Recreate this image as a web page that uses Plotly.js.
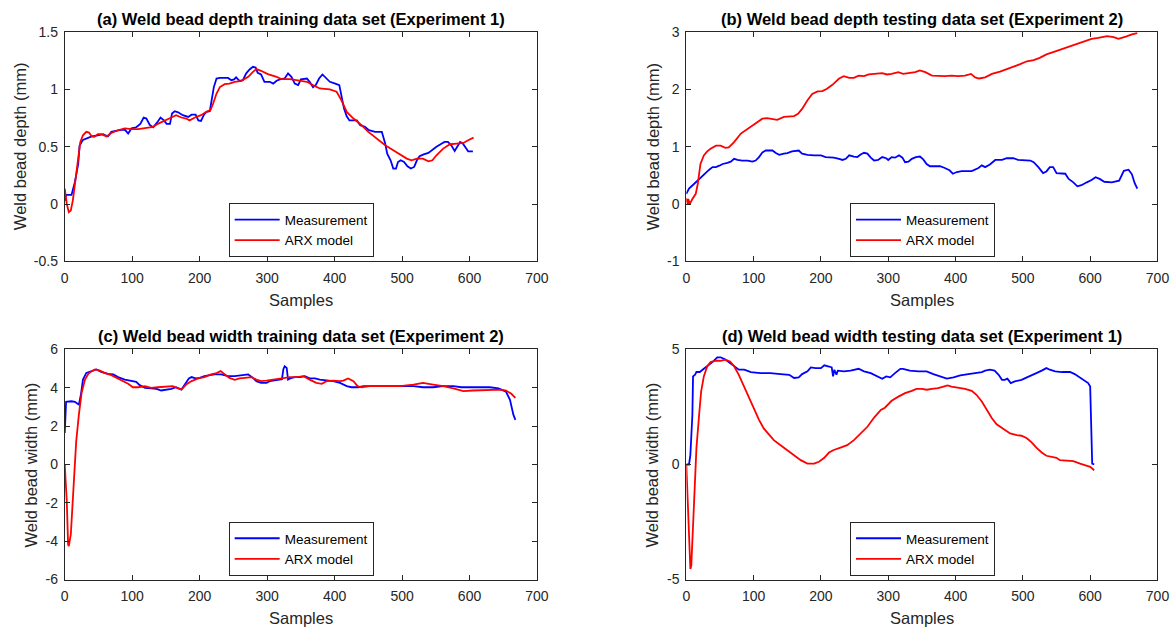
<!DOCTYPE html>
<html>
<head>
<meta charset="utf-8">
<script src="https://cdn.plot.ly/plotly-3.0.1.min.js"></script>
<style>html,body{margin:0;padding:0;background:#fff;}#chart{width:1175px;height:628px;}</style>
</head>
<body>
<div id="chart"></div>
<script>
// ---- Data (sample index, value) ----
const seriesNames = ["Measurement", "ARX model"];
const panelTitles = [
  "(a) Weld bead depth training data set (Experiment 1)",
  "(b) Weld bead depth testing data set (Experiment 2)",
  "(c) Weld bead width training data set (Experiment 2)",
  "(d) Weld bead width testing data set (Experiment 1)"
];
const yTitles = ["Weld bead depth (mm)", "Weld bead depth (mm)", "Weld bead width (mm)", "Weld bead width (mm)"];
const xTitle = "Samples";

const xTickVals = [0, 100, 200, 300, 400, 500, 600, 700];
const aTickVals = [-0.5, 0, 0.5, 1, 1.5];
const aTickText = ["-0.5", "0", "0.5", "1", "1.5"];
const bTickVals = [-1, 0, 1, 2, 3];
const bTickText = ["-1", "0", "1", "2", "3"];
const cTickVals = [-6, -4, -2, 0, 2, 4, 6];
const cTickText = ["-6", "-4", "-2", "0", "2", "4", "6"];
const dTickVals = [-5, 0, 5];
const dTickText = ["-5", "0", "5"];

const aMeas = [[0,0.03],[2,0.08],[10,0.08],[15,0.19],[20,0.35],[22,0.51],[27,0.56],[34,0.58],[40,0.59],[49,0.60],[57,0.61],[64,0.59],[69,0.63],[81,0.645],[89,0.65],[94,0.615],[99,0.66],[106,0.67],[112,0.70],[117,0.755],[121,0.746],[126,0.69],[131,0.67],[138,0.72],[142,0.755],[147,0.73],[151,0.70],[156,0.70],[159,0.79],[163,0.81],[168,0.80],[175,0.775],[183,0.76],[188,0.78],[194,0.78],[198,0.73],[202,0.725],[206,0.775],[210,0.805],[215,0.81],[217,0.877],[221,1.02],[225,1.095],[230,1.10],[242,1.10],[247,1.08],[251,1.087],[254,1.105],[259,1.075],[264,1.08],[269,1.14],[274,1.174],[279,1.197],[283,1.19],[286,1.145],[291,1.13],[296,1.066],[304,1.066],[309,1.05],[314,1.075],[319,1.087],[326,1.095],[331,1.14],[336,1.11],[341,1.05],[346,1.037],[350,1.087],[359,1.095],[363,1.066],[368,1.02],[372,1.037],[377,1.095],[382,1.13],[387,1.104],[393,1.066],[401,1.05],[407,1.037],[410,0.95],[414,0.833],[418,0.766],[422,0.73],[433,0.73],[438,0.688],[445,0.673],[451,0.644],[460,0.63],[470,0.63],[475,0.528],[478,0.44],[483,0.382],[487,0.31],[491,0.31],[494,0.367],[498,0.382],[503,0.367],[508,0.33],[513,0.31],[518,0.324],[522,0.382],[526,0.417],[532,0.434],[539,0.446],[544,0.47],[551,0.5],[559,0.528],[563,0.542],[568,0.542],[573,0.513],[578,0.464],[582,0.5],[586,0.542],[590,0.528],[595,0.484],[598,0.46],[605,0.46]];
const aArx = [[0,0.135],[3,0.004],[6,-0.07],[9,-0.055],[12,0.033],[16,0.207],[20,0.382],[23,0.54],[27,0.6],[32,0.63],[36,0.624],[40,0.59],[44,0.586],[49,0.61],[54,0.61],[62,0.59],[69,0.62],[79,0.644],[89,0.66],[99,0.653],[109,0.653],[119,0.66],[131,0.673],[138,0.70],[148,0.725],[158,0.755],[165,0.775],[173,0.755],[180,0.746],[185,0.73],[193,0.755],[202,0.775],[210,0.805],[216,0.82],[220,0.877],[225,0.964],[230,1.02],[237,1.046],[244,1.05],[252,1.066],[262,1.075],[272,1.11],[279,1.153],[284,1.177],[291,1.162],[301,1.133],[314,1.11],[321,1.09],[334,1.09],[346,1.08],[359,1.066],[368,1.037],[378,1.008],[393,1.0],[403,0.98],[410,0.906],[418,0.804],[428,0.746],[440,0.688],[450,0.63],[462,0.57],[475,0.513],[487,0.47],[497,0.434],[507,0.397],[514,0.382],[522,0.397],[531,0.397],[539,0.373],[545,0.382],[551,0.426],[561,0.484],[571,0.522],[581,0.528],[591,0.533],[598,0.557],[606,0.58]];

const bMeas = [[0,0.18],[4,0.27],[9,0.325],[14,0.38],[19,0.44],[24,0.5],[29,0.56],[34,0.6],[39,0.645],[44,0.645],[49,0.67],[54,0.70],[61,0.72],[66,0.74],[71,0.79],[76,0.77],[83,0.76],[91,0.76],[98,0.74],[103,0.76],[108,0.82],[113,0.9],[118,0.935],[128,0.935],[133,0.89],[138,0.86],[145,0.88],[150,0.89],[157,0.92],[162,0.925],[167,0.935],[172,0.88],[180,0.86],[190,0.85],[200,0.85],[207,0.82],[219,0.81],[227,0.79],[232,0.77],[237,0.79],[242,0.85],[249,0.83],[254,0.82],[259,0.865],[264,0.895],[269,0.88],[274,0.81],[279,0.76],[285,0.77],[291,0.82],[297,0.80],[300,0.77],[305,0.82],[310,0.81],[316,0.85],[321,0.81],[325,0.73],[330,0.74],[335,0.79],[341,0.82],[347,0.83],[352,0.78],[357,0.70],[362,0.66],[370,0.66],[377,0.66],[384,0.63],[391,0.59],[396,0.53],[402,0.56],[409,0.575],[424,0.575],[434,0.63],[439,0.675],[444,0.645],[451,0.69],[459,0.77],[469,0.77],[476,0.80],[486,0.80],[493,0.77],[503,0.76],[511,0.76],[516,0.73],[523,0.645],[530,0.54],[535,0.57],[540,0.645],[545,0.645],[550,0.54],[558,0.53],[563,0.53],[568,0.44],[575,0.38],[581,0.31],[587,0.33],[595,0.38],[602,0.42],[608,0.47],[614,0.44],[621,0.39],[632,0.38],[643,0.41],[650,0.58],[657,0.60],[662,0.52],[666,0.37],[670,0.27]];
const bArx = [[0,0.1],[2,0.0],[3,0.09],[5,0.0],[9,0.09],[14,0.18],[17,0.35],[21,0.70],[26,0.85],[31,0.92],[36,0.965],[44,1.02],[51,1.02],[58,0.98],[63,0.99],[71,1.08],[81,1.23],[91,1.31],[103,1.41],[113,1.49],[120,1.50],[128,1.48],[135,1.47],[145,1.52],[153,1.53],[160,1.535],[166,1.575],[172,1.66],[180,1.81],[187,1.92],[195,1.965],[202,1.97],[209,2.01],[217,2.08],[227,2.19],[234,2.23],[242,2.20],[249,2.20],[256,2.24],[264,2.23],[271,2.26],[279,2.27],[286,2.27],[291,2.285],[298,2.26],[305,2.27],[315,2.30],[322,2.27],[330,2.285],[340,2.30],[347,2.33],[355,2.30],[365,2.24],[374,2.23],[384,2.23],[394,2.24],[404,2.23],[414,2.24],[423,2.27],[429,2.21],[435,2.19],[444,2.21],[454,2.27],[466,2.31],[476,2.35],[486,2.39],[496,2.44],[506,2.49],[516,2.51],[525,2.55],[535,2.61],[545,2.65],[555,2.69],[565,2.73],[575,2.78],[585,2.82],[592,2.85],[602,2.88],[612,2.90],[625,2.93],[635,2.91],[642,2.88],[653,2.92],[662,2.96],[670,2.98]];

const cMeas = [[0,1.65],[1,2.6],[2,3.27],[10,3.3],[15,3.27],[19,3.17],[21,3.13],[24,3.65],[27,4.43],[32,4.78],[37,4.83],[42,4.90],[47,4.96],[54,4.83],[64,4.73],[72,4.70],[79,4.56],[89,4.43],[99,4.35],[106,4.31],[111,4.14],[119,4.0],[128,3.97],[136,3.95],[143,3.86],[151,3.90],[158,3.95],[165,4.03],[173,3.91],[178,4.17],[184,4.49],[188,4.56],[194,4.49],[200,4.52],[207,4.61],[215,4.66],[222,4.70],[232,4.70],[242,4.61],[252,4.61],[262,4.66],[272,4.70],[279,4.52],[284,4.35],[291,4.26],[299,4.26],[304,4.35],[311,4.38],[319,4.42],[322,4.45],[324,4.96],[326,5.13],[329,5.04],[331,4.43],[334,4.49],[341,4.56],[349,4.56],[356,4.61],[363,4.49],[371,4.49],[378,4.43],[388,4.38],[398,4.35],[408,4.26],[418,4.09],[425,4.03],[435,4.03],[443,4.09],[457,4.09],[477,4.09],[497,4.09],[517,4.09],[531,4.03],[546,4.03],[561,4.09],[576,4.09],[588,4.03],[601,4.03],[615,4.05],[630,4.03],[643,3.97],[654,3.8],[660,3.37],[665,2.6],[668,2.33]];
const cArx = [[0,0.0],[3,-1.9],[5,-4.17],[6,-4.26],[9,-3.65],[11,-2.26],[14,-0.7],[17,1.22],[21,2.61],[25,3.74],[30,4.43],[35,4.73],[40,4.87],[45,4.96],[52,4.90],[59,4.78],[69,4.66],[81,4.43],[94,4.21],[101,4.03],[109,4.03],[119,4.09],[128,4.0],[138,4.03],[148,4.05],[160,4.09],[168,3.97],[173,3.91],[180,4.17],[188,4.35],[198,4.49],[207,4.56],[217,4.70],[225,4.77],[231,4.87],[237,4.73],[244,4.52],[252,4.42],[259,4.49],[267,4.52],[277,4.56],[284,4.43],[291,4.35],[299,4.38],[309,4.43],[319,4.49],[324,4.49],[334,4.56],[344,4.56],[354,4.61],[363,4.43],[373,4.26],[381,4.21],[388,4.35],[398,4.38],[408,4.35],[413,4.38],[420,4.49],[428,4.35],[434,4.09],[440,4.03],[452,4.09],[467,4.09],[482,4.09],[497,4.09],[517,4.17],[531,4.26],[546,4.17],[561,4.09],[576,3.97],[591,3.83],[605,3.86],[620,3.88],[635,3.91],[647,3.91],[654,3.86],[662,3.69],[668,3.47]];

const dMeas = [[0,0],[4,0],[6,0.41],[9,2.15],[10,3.83],[13,3.9],[15,4.02],[20,4.02],[26,4.16],[34,4.34],[40,4.48],[46,4.66],[51,4.66],[58,4.56],[63,4.45],[71,4.27],[78,4.12],[86,4.12],[96,4.02],[110,3.97],[125,3.97],[140,3.93],[153,3.9],[160,3.76],[167,3.79],[172,3.93],[180,4.05],[185,4.22],[192,4.19],[200,4.19],[205,4.31],[212,4.26],[216,4.22],[218,3.83],[220,4.12],[223,3.9],[225,4.08],[234,4.05],[244,4.08],[256,4.16],[264,4.05],[274,3.97],[284,3.83],[291,3.73],[297,3.83],[303,3.79],[310,3.97],[318,4.16],[322,4.16],[332,4.08],[345,4.05],[357,4.05],[367,3.93],[377,3.83],[387,3.73],[397,3.79],[407,3.87],[419,3.93],[429,3.97],[439,4.02],[444,4.08],[451,4.12],[458,4.08],[464,3.9],[469,3.68],[473,3.68],[477,3.73],[482,3.54],[488,3.61],[498,3.68],[506,3.79],[513,3.87],[520,3.97],[528,4.08],[535,4.19],[540,4.12],[548,4.05],[558,4.02],[570,4.02],[577,3.93],[585,3.76],[592,3.64],[597,3.54],[600,3.39],[601,2.15],[602,0.7],[603,0.04],[606,0]];
const dArx = [[0,0],[2.5,-2.2],[4.5,-3.96],[6,-4.54],[7.4,-4.4],[9.4,-3.09],[12,-1.05],[15,0.70],[19,2.15],[22,3.17],[26,3.83],[31,4.26],[36,4.45],[44,4.51],[51,4.51],[58,4.56],[65,4.48],[71,4.27],[78,3.9],[86,3.39],[93,2.88],[101,2.37],[108,1.94],[115,1.57],[123,1.28],[130,1.06],[140,0.84],[150,0.63],[160,0.41],[170,0.19],[180,0.04],[190,0.04],[197,0.12],[205,0.29],[212,0.52],[219,0.63],[229,0.73],[239,0.84],[249,1.06],[259,1.35],[269,1.64],[279,2.04],[289,2.37],[295,2.47],[305,2.77],[315,2.95],[325,3.10],[335,3.20],[342,3.29],[350,3.29],[357,3.25],[365,3.29],[374,3.32],[382,3.39],[388,3.44],[394,3.39],[404,3.35],[414,3.29],[424,3.20],[431,3.03],[439,2.74],[446,2.37],[454,2.01],[461,1.75],[471,1.54],[481,1.35],[491,1.28],[498,1.25],[506,1.14],[513,0.96],[520,0.73],[528,0.52],[535,0.38],[543,0.33],[550,0.29],[555,0.19],[565,0.16],[575,0.15],[585,0.04],[592,-0.03],[600,-0.10],[606,-0.25]];

// ---- Build figure ----
const FONT = "Liberation Sans, Arial, Helvetica, sans-serif";
const AX = "#262626";
const BLUE = "#0000FF", RED = "#FF0000";

const panels = [
  {meas: aMeas, arx: aArx, xa: "x",  ya: "y",  leg: "legend"},
  {meas: bMeas, arx: bArx, xa: "x2", ya: "y2", leg: "legend2"},
  {meas: cMeas, arx: cArx, xa: "x3", ya: "y3", leg: "legend3"},
  {meas: dMeas, arx: dArx, xa: "x4", ya: "y4", leg: "legend4"}
];

const traces = [];
panels.forEach(p => {
  traces.push({type: "scatter", mode: "lines", name: seriesNames[0],
    x: p.meas.map(d => d[0]), y: p.meas.map(d => d[1]),
    xaxis: p.xa, yaxis: p.ya, legend: p.leg,
    line: {color: BLUE, width: 1.8}, hoverinfo: "skip"});
  traces.push({type: "scatter", mode: "lines", name: seriesNames[1],
    x: p.arx.map(d => d[0]), y: p.arx.map(d => d[1]),
    xaxis: p.xa, yaxis: p.ya, legend: p.leg,
    line: {color: RED, width: 1.8}, hoverinfo: "skip"});
});

const colL = [0.0551, 0.4570], colR = [0.5841, 0.9851];
const rowT = [0.5836, 0.9490], rowB = [0.0772, 0.4435];

function xAxis(domain, anchor) {
  return {domain: domain, anchor: anchor, range: [0, 700], tickvals: xTickVals,
    showline: true, mirror: "ticks", linecolor: AX, linewidth: 1,
    ticks: "inside", ticklen: 5, tickcolor: AX, tickwidth: 1, ticklabelstandoff: 4,
    showgrid: false, zeroline: false, fixedrange: true,
    tickfont: {family: FONT, size: 14, color: AX}};
}
function yAxis(domain, anchor, range, vals, text) {
  return {domain: domain, anchor: anchor, range: range, tickvals: vals, ticktext: text,
    showline: true, mirror: "ticks", linecolor: AX, linewidth: 1,
    ticks: "inside", ticklen: 5, tickcolor: AX, tickwidth: 1, ticklabelstandoff: 3,
    showgrid: false, zeroline: false, fixedrange: true,
    tickfont: {family: FONT, size: 14, color: AX}};
}
function legendAt(x, y) {
  return {x: x, y: y, xanchor: "left", yanchor: "top", xref: "paper", yref: "paper",
    bgcolor: "#ffffff", bordercolor: AX, borderwidth: 1,
    font: {family: FONT, size: 13.5, color: "#000"}, itemwidth: 45, tracegroupgap: 0};
}

const annotations = [];
const titleXs = [0.2560, 0.7846, 0.2560, 0.7846];
const titleYs = [0.969, 0.969, 0.4642, 0.4642];
panelTitles.forEach((t, i) => annotations.push({text: "<b>" + t + "</b>", xref: "paper", yref: "paper",
  x: titleXs[i], y: titleYs[i], xanchor: "center", yanchor: "middle", showarrow: false,
  font: {family: FONT, size: 16.5, color: "#000"}}));
const sampY = [0.523, 0.523, 0.0167, 0.0167];
titleXs.forEach((x, i) => annotations.push({text: xTitle, xref: "paper", yref: "paper",
  x: x, y: sampY[i], xanchor: "center", yanchor: "middle", showarrow: false,
  font: {family: FONT, size: 16.5, color: AX}}));
const yTitleX = [0.0167, 0.5557, 0.0272, 0.5557];
const yTitleY = [0.7667, 0.7667, 0.2604, 0.2604];
yTitles.forEach((t, i) => annotations.push({text: t, xref: "paper", yref: "paper",
  x: yTitleX[i], y: yTitleY[i], xanchor: "center", yanchor: "middle", textangle: -90, showarrow: false,
  font: {family: FONT, size: 16.5, color: AX}}));

const layout = {
  width: 1175, height: 628, margin: {l: 0, r: 0, t: 0, b: 0},
  paper_bgcolor: "#ffffff", plot_bgcolor: "#ffffff",
  font: {family: FONT, color: AX},
  xaxis: xAxis(colL, "y"), yaxis: yAxis(rowT, "x", [-0.5, 1.5], aTickVals, aTickText),
  xaxis2: xAxis(colR, "y2"), yaxis2: yAxis(rowT, "x2", [-1, 3], bTickVals, bTickText),
  xaxis3: xAxis(colL, "y3"), yaxis3: yAxis(rowB, "x3", [-6, 6], cTickVals, cTickText),
  xaxis4: xAxis(colR, "y4"), yaxis4: yAxis(rowB, "x4", [-5, 5], dTickVals, dTickText),
  legend: legendAt(0.1946, 0.6763), legend2: legendAt(0.7234, 0.6763),
  legend3: legendAt(0.1946, 0.1688), legend4: legendAt(0.7234, 0.1688),
  showlegend: true, annotations: annotations
};

Plotly.newPlot("chart", traces, layout, {displayModeBar: false, staticPlot: true});
</script>
</body>
</html>
